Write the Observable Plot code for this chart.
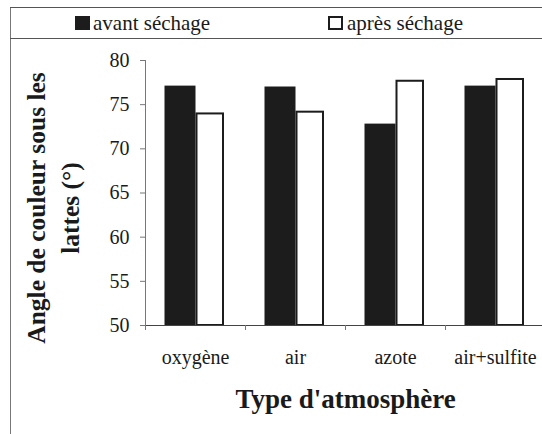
<!DOCTYPE html>
<html>
<head>
<meta charset="utf-8">
<script src="https://cdn.jsdelivr.net/npm/d3@7"></script>
<script src="https://cdn.jsdelivr.net/npm/@observablehq/plot@0.6"></script>
<style>
  html, body { margin: 0; padding: 0; background: #fff; overflow: hidden; }
  #wrap { position: relative; width: 546px; height: 434px; font-family: "Liberation Serif", "DejaVu Serif", serif; color: #1a1a1a; }
  #legend { position: relative; height: 38px; }
  .sw { position: absolute; box-sizing: border-box; }
  .lt { position: absolute; font-family: "Liberation Serif", "DejaVu Serif", serif; font-size: 21px; line-height: normal; white-space: nowrap; }
  #frameL { position: absolute; left: 10px; top: 7px; width: 1px; height: 427px; background: #777; }
  #frameT { position: absolute; left: 10px; top: 7px; width: 536px; height: 1px; background: #555; }
  #sep { position: absolute; left: 10px; top: 38px; width: 536px; height: 1px; background: #555; }
  #chart svg { display: block; }
  #chart svg text { font-family: "Liberation Serif", "DejaVu Serif", serif; }
</style>
</head>
<body>
<div id="wrap">
  <div id="legend"></div>
  <div id="chart"></div>
  <div id="frameL"></div>
  <div id="frameT"></div>
  <div id="sep"></div>
</div>
<script>
const categories = ["oxygène", "air", "azote", "air+sulfite"];
const series = ["avant séchage", "après séchage"];
const avant = [77.1, 77.0, 72.8, 77.1];
const apres = [73.95, 74.15, 77.65, 77.85];
const yTicks = [50, 55, 60, 65, 70, 75, 80];
const yTitle = "Angle de couleur sous les\nlattes (°)";
const xTitle = "Type d'atmosphère";

const yMin = yTicks[0];
const yMax = yTicks[yTicks.length - 1];
const rows = categories.map((c, i) => ({cat: c, avant: avant[i], apres: apres[i]}));

// Legend (HTML, above the SVG)
const legend = document.getElementById("legend");
const items = [
  {label: series[0], left: 75, fill: "#1c1c1c", border: "none", textLeft: 93},
  {label: series[1], left: 328, fill: "#fff", border: "2px solid #1c1c1c", textLeft: 347}
];
for (const it of items) {
  const sw = document.createElement("div");
  sw.className = "sw";
  Object.assign(sw.style, {left: it.left + "px", top: "16px", width: "15px", height: "14px", background: it.fill, border: it.border});
  legend.appendChild(sw);
  const t = document.createElement("div");
  t.className = "lt";
  t.textContent = it.label;
  Object.assign(t.style, {left: it.textLeft + "px", top: "11px"});
  legend.appendChild(t);
}

const chart = Plot.plot({
  width: 546,
  height: 396,
  marginLeft: 145,
  marginRight: 1,
  marginTop: 22,
  marginBottom: 109,
  style: {fontFamily: "'Liberation Serif', 'DejaVu Serif', serif", color: "#1a1a1a", background: "transparent", overflow: "visible"},
  x: {domain: categories, padding: 0},
  y: {domain: [yMin, yMax]},
  marks: [
    Plot.barY(rows, {x: "cat", y1: yMin, y2: "avant", fill: "#1c1c1c", insetLeft: 19.5, insetRight: 49.5}),
    Plot.barY(rows, {x: "cat", y1: yMin, y2: "apres", fill: "#fff", stroke: "#1c1c1c", strokeWidth: 2, insetLeft: 51.5, insetRight: 22}),
    Plot.ruleY([yMin], {stroke: "#444", strokeWidth: 1}),
    Plot.frame({anchor: "left", stroke: "#777"}),
    Plot.ruleX(categories, {x: d => d, dx: -50, y1: yMin, y2: yMin, insetBottom: -5, stroke: "#777"}),
    Plot.axisY({ticks: yTicks, tickSize: 5, tickPadding: 11, fontSize: 20, label: null, stroke: "#777", fill: "#1a1a1a"}),
    Plot.axisX({tickSize: 0, tickPadding: 24, fontSize: 20, label: null, fill: "#1a1a1a"}),
    Plot.text([xTitle], {frameAnchor: "bottom", lineAnchor: "middle", textAnchor: "middle", dy: 74, fontSize: 27, fontWeight: "bold", fill: "#1a1a1a"}),
    Plot.text([yTitle], {frameAnchor: "left", lineAnchor: "middle", textAnchor: "middle", dx: -94, dy: 15, rotate: -90, fontSize: 25.5, lineHeight: 1.33, fontWeight: "bold", fill: "#1a1a1a"})
  ]
});
document.getElementById("chart").appendChild(chart);
</script>
</body>
</html>
